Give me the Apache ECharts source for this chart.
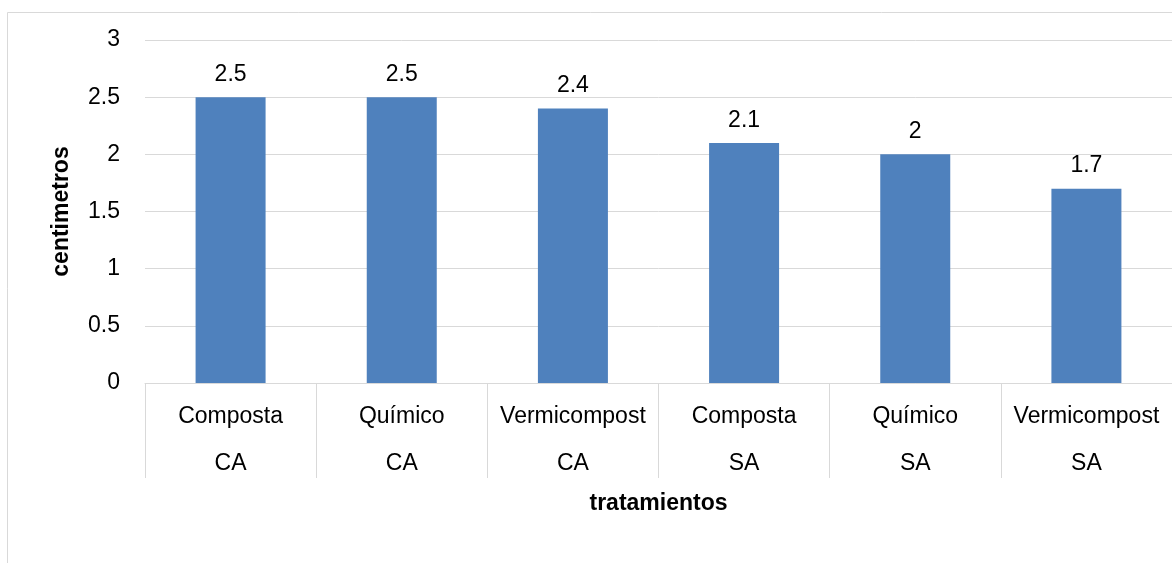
<!DOCTYPE html>
<html>
<head>
<meta charset="utf-8">
<script src="https://cdn.jsdelivr.net/npm/echarts@6/dist/echarts.min.js"></script>
<style>
    html, body { margin: 0; padding: 0; background: #fff; }
    #chart { width: 1172px; height: 563px; }
</style>
</head>
<body>
<div id="chart"></div>
<script>
// datos del gráfico
const tratamientos = ["Composta", "Químico", "Vermicompost", "Composta", "Químico", "Vermicompost"];
const grupos = ["CA", "CA", "CA", "SA", "SA", "SA"];
const valores = [2.5, 2.5, 2.4, 2.1, 2, 1.7];
const yTicks = [0, 0.5, 1, 1.5, 2, 2.5, 3];

const FONT = "Liberation Sans, Arial, sans-serif";
const SIZE = 23;
const categorias = tratamientos.map((t, i) => t + "\n" + grupos[i]);

const chart = echarts.init(document.getElementById("chart"));
chart.setOption({
    animation: false,
    backgroundColor: "#fff",
    textStyle: { fontFamily: FONT },
    graphic: [
        {
            type: "rect",
            shape: { x: 7.5, y: 12.5, width: 1300, height: 700 },
            style: { fill: "none", stroke: "#d9d9d9", lineWidth: 1 },
            silent: true,
        },
    ],
    grid: {
        left: 145,
        top: 40,
        width: 1030,
        bottom: 180,
        containLabel: false,
    },
    xAxis: {
        type: "category",
        data: categorias,
        name: "tratamientos",
        nameLocation: "middle",
        nameGap: 109,
        nameTextStyle: { fontSize: SIZE, fontWeight: "bold", color: "#000", fontFamily: FONT },
        axisLine: { lineStyle: { color: "#d9d9d9", width: 1 } },
        axisTick: { show: true, interval: 0, length: 95, lineStyle: { color: "#d9d9d9", width: 1 } },
        axisLabel: {
            interval: 0,
            margin: 10,
            fontSize: SIZE,
            lineHeight: 47,
            color: "#000",
            fontFamily: FONT,
        },
    },
    yAxis: {
        type: "value",
        min: yTicks[0],
        max: yTicks[yTicks.length - 1],
        interval: 0.5,
        name: "centimetros",
        nameLocation: "middle",
        nameGap: 72,
        nameTextStyle: { fontSize: SIZE, fontWeight: "bold", color: "#000", fontFamily: FONT },
        axisLine: { show: false },
        axisTick: { show: false },
        axisLabel: { margin: 25, fontSize: SIZE, color: "#000", fontFamily: FONT },
        splitLine: { lineStyle: { color: "#d9d9d9", width: 1 } },
    },
    series: [
        {
            type: "bar",
            data: valores,
            barWidth: 70,
            itemStyle: { color: "#4f81bd" },
            label: {
                show: true,
                position: "top",
                distance: 11,
                fontSize: SIZE,
                color: "#000",
                fontFamily: FONT,
            },
        },
    ],
});
</script>
</body>
</html>
